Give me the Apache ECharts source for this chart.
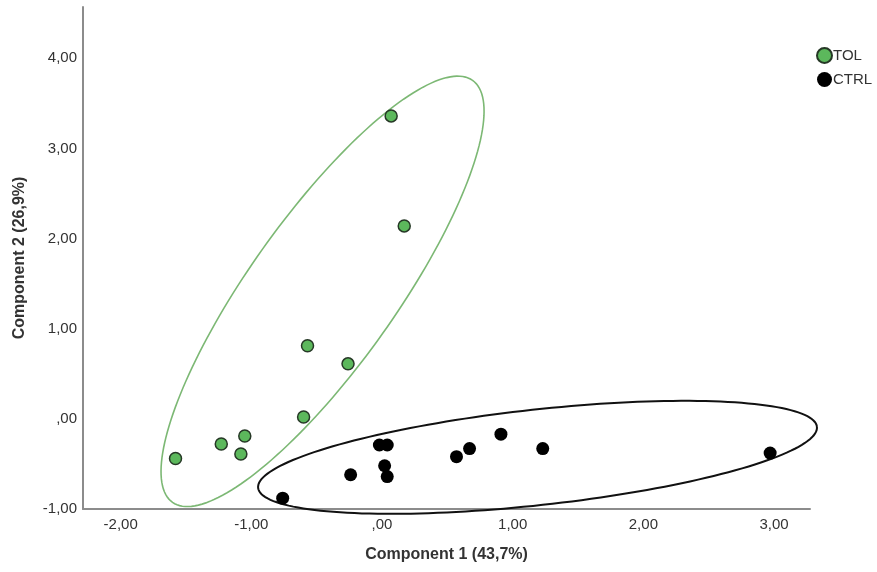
<!DOCTYPE html>
<html>
<head>
<meta charset="utf-8">
<style>
  html, body { margin: 0; padding: 0; background: #fff; }
  #chart { width: 877px; height: 572px; }
</style>
<script src="https://cdn.jsdelivr.net/npm/echarts@6/dist/echarts.min.js"></script>
</head>
<body>
<div id="chart"></div>
<script>
// PCA scores
const tolX = [0.07, 0.17, -0.57, -0.26, -0.60, -1.05, -1.23, -1.08, -1.58];
const tolY = [3.36, 2.14, 0.81, 0.61, 0.02, -0.19, -0.28, -0.39, -0.44];
const ctrlX = [-0.76, -0.24, -0.02, 0.04, 0.02, 0.04, 0.57, 0.67, 0.91, 1.23, 2.97];
const ctrlY = [-0.88, -0.62, -0.29, -0.29, -0.52, -0.64, -0.42, -0.33, -0.17, -0.33, -0.38];

// ellipses: centre x, centre y, then two conjugate semi-axis vectors (data units)
const tolEllipse = [-0.455, 1.414, 1.148, 2.340, -0.458, 0.471];
const ctrlEllipse = [1.190, -0.427, 2.138, 0.339, -0.040, 0.527];

const xTicks = [-2, -1, 0, 1, 2, 3];
const yTicks = [-1, 0, 1, 2, 3, 4];

const GREEN = '#5cb85c';
const TEXT = '#333333';
const AXIS = '#8c8c8c';

function fmt(v) {
  let s = Number(v).toFixed(2).replace('.', ',');
  if (s === '0,00') s = ',00';
  return s;
}

function pairs(xs, ys) {
  return xs.map((x, i) => [x, ys[i]]);
}

function ellipseSeries(params, color, width) {
  return {
    type: 'custom',
    silent: true,
    z: 1,
    data: [params],
    encode: { x: 0, y: 1 },
    renderItem: function (p, api) {
      const cx = api.value(0), cy = api.value(1);
      const ux = api.value(2), uy = api.value(3);
      const vx = api.value(4), vy = api.value(5);
      const pts = [];
      for (let k = 0; k <= 180; k++) {
        const t = k / 180 * Math.PI * 2;
        const c = Math.cos(t), s = Math.sin(t);
        pts.push(api.coord([cx + ux * c + vx * s, cy + uy * c + vy * s]));
      }
      return {
        type: 'polyline',
        shape: { points: pts, smooth: 0 },
        style: { fill: null, stroke: color, lineWidth: width }
      };
    }
  };
}

const chart = echarts.init(document.getElementById('chart'));

chart.setOption({
  backgroundColor: '#fff',
  animation: false,
  grid: { left: 83, right: 67, top: 7, bottom: 63, containLabel: false },
  legend: {
    orient: 'vertical',
    left: 811,
    top: 42,
    itemWidth: 15,
    itemHeight: 15,
    itemGap: 8,
    icon: 'circle',
    data: ['TOL', 'CTRL'],
    textStyle: { color: TEXT, fontSize: 15, fontFamily: 'Liberation Sans, Arial', padding: [0, 0, 0, -4] }
  },
  xAxis: {
    type: 'value',
    min: -2.288,
    max: 3.275,
    name: 'Component 1 (43,7%)',
    nameLocation: 'middle',
    nameGap: 38,
    nameTextStyle: { color: TEXT, fontSize: 16, fontWeight: 'bold', fontFamily: 'Liberation Sans, Arial' },
    axisLine: { show: true, onZero: false, lineStyle: { color: AXIS, width: 2 } },
    axisTick: { show: false },
    splitLine: { show: false },
    axisLabel: {
      customValues: xTicks,
      formatter: fmt,
      color: TEXT,
      fontSize: 15,
      margin: 8,
      fontFamily: 'Liberation Sans, Arial'
    }
  },
  yAxis: {
    type: 'value',
    min: -1,
    max: 4.568,
    name: 'Component 2 (26,9%)',
    nameLocation: 'middle',
    nameGap: 55,
    nameTextStyle: { color: TEXT, fontSize: 16, fontWeight: 'bold', fontFamily: 'Liberation Sans, Arial' },
    axisLine: { show: true, onZero: false, lineStyle: { color: AXIS, width: 2 } },
    axisTick: { show: false },
    splitLine: { show: false },
    axisLabel: {
      customValues: yTicks,
      formatter: fmt,
      color: TEXT,
      fontSize: 15,
      margin: 6,
      fontFamily: 'Liberation Sans, Arial'
    }
  },
  series: [
    ellipseSeries(tolEllipse, '#7cb874', 1.6),
    ellipseSeries(ctrlEllipse, '#111', 2),
    {
      name: 'TOL',
      type: 'scatter',
      z: 3,
      symbolSize: 12,
      data: pairs(tolX, tolY),
      itemStyle: { color: GREEN, borderColor: '#263826', borderWidth: 1.5, opacity: 1 }
    },
    {
      name: 'CTRL',
      type: 'scatter',
      z: 3,
      symbolSize: 13,
      data: pairs(ctrlX, ctrlY),
      itemStyle: { color: '#000', borderColor: '#000', borderWidth: 0, opacity: 1 }
    }
  ]
});
</script>
</body>
</html>
